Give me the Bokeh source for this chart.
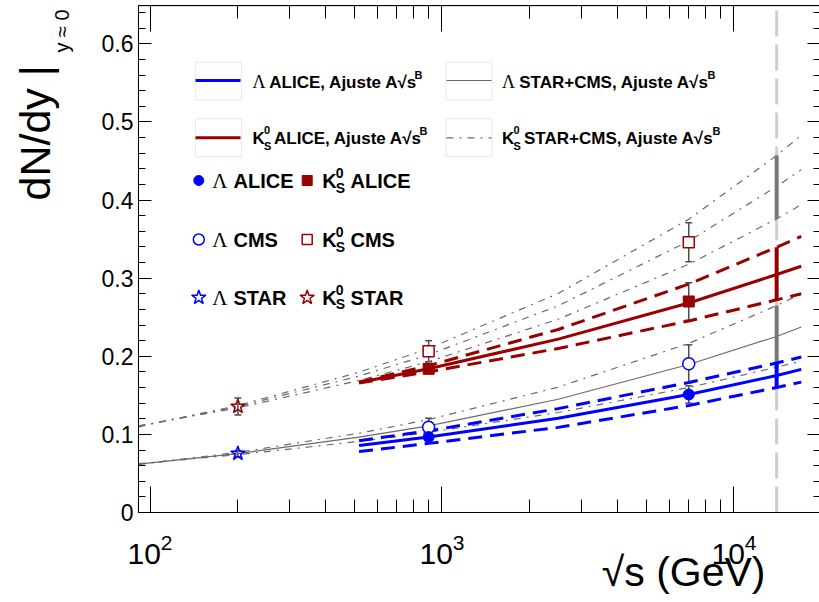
import math
from bokeh.plotting import figure
from bokeh.models import (Range1d, LinearScale, FixedTicker, LogAxis, LinearAxis, Label,
                          Whisker, TeeHead, ColumnDataSource, LogTickFormatter)
from bokeh.embed import file_html
from bokeh.resources import INLINE

# ---------------- data ----------------
E_STAR = [200]
E_LHC = [900, 7000]
E_EXT = 14000

lam_alice_y = [0.0966, 0.1511]
lam_alice_err = [0.005, 0.011]
lam_cms_y = [0.1092, 0.1904]
lam_cms_err = [0.0116, 0.0243]
lam_star_y = [0.0755]
lam_star_err = [0.004]

k0_alice_y = [0.184, 0.2702]
k0_alice_err = [0.006, 0.024]
k0_cms_y = [0.2065, 0.3461]
k0_cms_err = [0.0135, 0.025]
k0_star_y = [0.1357]
k0_star_err = [0.011]

# fit curves, read at these energies
fit_x_wide = [91.3, 200, 520, 900, 2500, 7000, 14000, 17000]
fit_x_alice = [520, 900, 2500, 7000, 14000, 17000]

lam_sc_fit = [0.0620, 0.0755, 0.0965, 0.1110, 0.1450, 0.1895, 0.2254, 0.2375]
lam_sc_hi = [0.0615, 0.0770, 0.1015, 0.1190, 0.1605, 0.2165, 0.2650, 0.2800]
lam_sc_lo = [0.0625, 0.0740, 0.0910, 0.1026, 0.1280, 0.1600, 0.1860, 0.1940]
k0_sc_fit = [0.1105, 0.1357, 0.1747, 0.2020, 0.2646, 0.3475, 0.4174, 0.4390]
k0_sc_hi = [0.1097, 0.1370, 0.1796, 0.2100, 0.2804, 0.3755, 0.4570, 0.4830]
k0_sc_lo = [0.1108, 0.1340, 0.1690, 0.1931, 0.2475, 0.3178, 0.3760, 0.3940]

lam_al_fit = [0.0857, 0.0966, 0.1207, 0.1511, 0.1754, 0.1833]
lam_al_hi = [0.0920, 0.1045, 0.1330, 0.1665, 0.1915, 0.1990]
lam_al_lo = [0.0780, 0.0885, 0.1090, 0.1370, 0.1600, 0.1669]
k0_al_fit = [0.1664, 0.1840, 0.2220, 0.2683, 0.3047, 0.3153]
k0_al_hi = [0.1670, 0.1880, 0.2343, 0.2925, 0.3397, 0.3537]
k0_al_lo = [0.1657, 0.1800, 0.2100, 0.2453, 0.2723, 0.2800]

# extrapolation to 14 TeV: (centre, half-width)
ext_k0_sc = (0.4165, 0.0405)
ext_lam_sc = (0.2255, 0.0395)
ext_k0_al = (0.3060, 0.0337)
ext_lam_al = (0.1754, 0.0150)

# axis frame (data limits of the drawn box) and ticks
X_LO, X_HI = 91.3, 19800
Y_LO, Y_HI = 0.0, 0.649
x_major = [100, 1000, 10000]
x_minor = [m * 10 ** k for k in (2, 3, 4) for m in range(2, 10) if m * 10 ** k < X_HI]
y_major = [0, 0.1, 0.2, 0.3, 0.4, 0.5, 0.6]
y_minor = [round(i * 0.02, 2) for i in range(33) if i % 5]

BLUE = "#0000ff"
RED = "#990000"
GRAY = "#6a6a6a"
BAR = "#4d4d4d"

W, H = 819, 602
# ---------------- figure: the frame fills the canvas, axes are pinned ----------------
p = figure(width=W, height=H, x_axis_type="log",
           x_range=Range1d(30.76, 19629), y_range=Range1d(-0.11524, 0.65557),
           output_backend="svg", toolbar_location=None, title=None,
           min_border_left=0, min_border_right=0, min_border_top=0, min_border_bottom=0,
           background_fill_color="white", border_fill_color="white",
           outline_line_color=None)
p.xgrid.visible = False
p.ygrid.visible = False
p.extra_x_ranges = {"px": Range1d(0, W)}
p.extra_y_ranges = {"px": Range1d(H, 0)}
p.extra_x_scales = {"px": LinearScale()}
p.extra_y_scales = {"px": LinearScale()}


def style_axis(ax, maj, mnr, labels=False):
    ax.axis_line_color = "black"
    ax.major_tick_line_color = "black"
    ax.minor_tick_line_color = "black"
    ax.major_tick_in = maj
    ax.major_tick_out = 0
    ax.minor_tick_in = mnr
    ax.minor_tick_out = 0
    if not labels:
        ax.major_label_text_font_size = "1px"
        ax.major_label_text_alpha = 0
        ax.major_label_standoff = 0


bx = p.xaxis[0]
bx.ticker = FixedTicker(ticks=x_major, minor_ticks=x_minor)
bx.formatter = LogTickFormatter()
bx.fixed_location = Y_LO
bx.bounds = (X_LO, X_HI)
style_axis(bx, 26, 13, labels=True)
bx.major_label_text_font = "Liberation Sans"
bx.major_label_text_font_size = "30px"
bx.major_label_text_color = "black"
bx.major_label_standoff = 22

ly = p.yaxis[0]
ly.ticker = FixedTicker(ticks=y_major, minor_ticks=y_minor)
ly.fixed_location = X_LO
ly.bounds = (Y_LO, Y_HI)
style_axis(ly, 13, 7, labels=True)
ly.major_label_text_font = "Liberation Sans"
ly.major_label_text_font_size = "23px"
ly.major_label_text_color = "black"
ly.major_label_standoff = 5
ly.major_label_overrides = {0: "0"}

top = LogAxis(ticker=FixedTicker(ticks=x_major, minor_ticks=x_minor), fixed_location=Y_HI,
              bounds=(X_LO, X_HI))
style_axis(top, 26, 13)
p.add_layout(top, "above")
right = LinearAxis(ticker=FixedTicker(ticks=y_major, minor_ticks=y_minor), fixed_location=X_HI,
                   bounds=(Y_LO, Y_HI))
style_axis(right, 13, 7)
p.add_layout(right, "right")

# 14 TeV reference line (behind everything)
p.segment(x0=[E_EXT], y0=[Y_LO], x1=[E_EXT], y1=[Y_HI], line_color="#cfcfcf",
          line_width=3, line_dash="26 8")

# ---------------- fit curves ----------------
DASHDOT = "7 6 2 6"
p.line(fit_x_wide, lam_sc_fit, line_color=GRAY, line_width=1.2)
for arr in (lam_sc_hi, lam_sc_lo):
    p.line(fit_x_wide, arr, line_color=GRAY, line_width=1.2, line_dash=DASHDOT)
for arr in (k0_sc_fit, k0_sc_hi, k0_sc_lo):
    p.line(fit_x_wide, arr, line_color=GRAY, line_width=1.2, line_dash=DASHDOT)

for c, h in (ext_k0_sc, ext_lam_sc):
    p.segment(x0=[E_EXT], y0=[c - h], x1=[E_EXT], y1=[c + h], line_color="#777777", line_width=4)

for col, fit, hi, lo in ((RED, k0_al_fit, k0_al_hi, k0_al_lo), (BLUE, lam_al_fit, lam_al_hi, lam_al_lo)):
    p.line(fit_x_alice, fit, line_color=col, line_width=3)
    p.line(fit_x_alice, hi, line_color=col, line_width=3, line_dash="14 8")
    p.line(fit_x_alice, lo, line_color=col, line_width=3, line_dash="14 8")

for (c, h), col in ((ext_k0_al, RED), (ext_lam_al, BLUE)):
    p.segment(x0=[E_EXT], y0=[c - h], x1=[E_EXT], y1=[c + h], line_color=col, line_width=4)


# ---------------- data points ----------------
def errbars(xs, ys, es):
    src = ColumnDataSource(dict(x=xs, lo=[y - e for y, e in zip(ys, es)], hi=[y + e for y, e in zip(ys, es)]))
    p.add_layout(Whisker(source=src, base="x", upper="hi", lower="lo", dimension="height",
                         line_color=BAR, line_width=1.5,
                         upper_head=TeeHead(size=7, line_color=BAR, line_width=1.5),
                         lower_head=TeeHead(size=7, line_color=BAR, line_width=1.5)))


for xs, ys, es in ((E_LHC, k0_cms_y, k0_cms_err), (E_LHC, lam_cms_y, lam_cms_err),
                   (E_STAR, k0_star_y, k0_star_err), (E_STAR, lam_star_y, lam_star_err),
                   (E_LHC, k0_alice_y, k0_alice_err), (E_LHC, lam_alice_y, lam_alice_err)):
    errbars(xs, ys, es)

p.scatter(E_LHC, k0_cms_y, marker="square", size=11, fill_color="white", line_color=RED, line_width=1.5)
p.scatter(E_LHC, lam_cms_y, marker="circle", size=12, fill_color="white", line_color=BLUE, line_width=1.5)
p.scatter(E_STAR, k0_star_y, marker="star", size=15, fill_alpha=0, line_color=RED, line_width=1.5)
p.scatter(E_STAR, lam_star_y, marker="star", size=15, fill_alpha=0, line_color=BLUE, line_width=1.5)
p.scatter(E_LHC, k0_alice_y, marker="square", size=11, fill_color=RED, line_color=RED)
p.scatter(E_LHC, lam_alice_y, marker="circle", size=11, fill_color=BLUE, line_color=BLUE)

# frame box drawn on top (ROOT style)
p.quad(left=[X_LO], right=[X_HI], bottom=[Y_LO], top=[Y_HI], fill_color=None,
       line_color="black", line_width=1)


# ---------------- text helpers (page-pixel coordinates, Y = visual centre) ----------------
def txt(X, Y, s, size, bold=True, font="Liberation Sans", align="left", angle=0, color="black"):
    p.add_layout(Label(x=X, y=Y, x_range_name="px", y_range_name="px", text=s, text_font=font,
                       text_font_size=f"{round(size)}px", text_font_style="bold" if bold else "normal",
                       text_align=align, text_baseline="middle", angle=angle, text_color=color))


def lam(X, Y, size):
    txt(X, Y, "Λ", size, bold=False, font="Liberation Serif")


def k0s(X, Y, size, up, down, small):
    txt(X, Y, "K", size)
    txt(X + size * 0.68, Y - up, "0", size * small)
    txt(X + size * 0.68, Y + down, "S", size * small)


PX = dict(x_range_name="px", y_range_name="px")
# top legend (fit lines)
leg_rows = [80.0, 137.3]
for (bxx, byy) in ((217.8, 80.6), (217.8, 137.2), (468.5, 80.6), (468.5, 137.2)):
    p.rect(x=[bxx], y=[byy], width=46, height=38, fill_color=None, line_color="#e6e6e6", **PX)
p.line([195, 240], [leg_rows[0]] * 2, line_color=BLUE, line_width=3, **PX)
p.line([195, 240], [leg_rows[1]] * 2, line_color=RED, line_width=3, **PX)
p.line([446, 491], [leg_rows[0]] * 2, line_color=GRAY, line_width=1.2, **PX)
p.line([446, 491], [leg_rows[1]] * 2, line_color=GRAY, line_width=1.2, line_dash=DASHDOT, **PX)

T1, T2 = 81.6, 137.6
lam(252, T1, 18)
txt(268.8, T1, "ALICE, Ajuste A√s", 17)
txt(414, T1 - 7, "B", 11)
lam(501.5, T1, 18)
txt(518.7, T1, "STAR+CMS, Ajuste A√s", 17)
txt(707, T1 - 7, "B", 11)
k0s(252, T2, 17, 8, 7.4, 0.62)
txt(273.5, T2, "ALICE, Ajuste A√s", 17)
txt(419, T2 - 7, "B", 11)
k0s(501.5, T2, 17, 8, 7.4, 0.62)
txt(523.5, T2, "STAR+CMS, Ajuste A√s", 17)
txt(712, T2 - 7, "B", 11)

# marker legend
rowsY = [180, 239, 297]
p.scatter([198.3], [rowsY[0]], marker="circle", size=10, fill_color=BLUE, line_color=BLUE, **PX)
p.scatter([306.7], [rowsY[0]], marker="square", size=10, fill_color=RED, line_color=RED, **PX)
p.scatter([198.3], [rowsY[1]], marker="circle", size=11, fill_color="white", line_color=BLUE, line_width=1.5, **PX)
p.scatter([306.7], [rowsY[1]], marker="square", size=10, fill_color="white", line_color=RED, line_width=1.5, **PX)
p.scatter([198.3], [rowsY[2]], marker="star", size=15, fill_alpha=0, line_color=BLUE, line_width=1.5, **PX)
p.scatter([306.7], [rowsY[2]], marker="star", size=15, fill_alpha=0, line_color=RED, line_width=1.5, **PX)
for Yc, name in zip([180.3, 239.7, 297.0], ["ALICE", "CMS", "STAR"]):
    lam(211.7, Yc, 21)
    txt(233, Yc, name, 20)
    k0s(321.7, Yc, 20, 7.8, 6.8, 0.70)
    txt(350, Yc, name, 20)

# axis titles
txt(34, 200, "dN/dy |", 43, bold=False, angle=math.pi / 2)
txt(61, 52, "y ≈ 0", 20, bold=False, angle=math.pi / 2)
txt(765, 571, "√s (GeV)", 41, bold=False, align="right")

open("out.html", "w").write(file_html(p, INLINE))
